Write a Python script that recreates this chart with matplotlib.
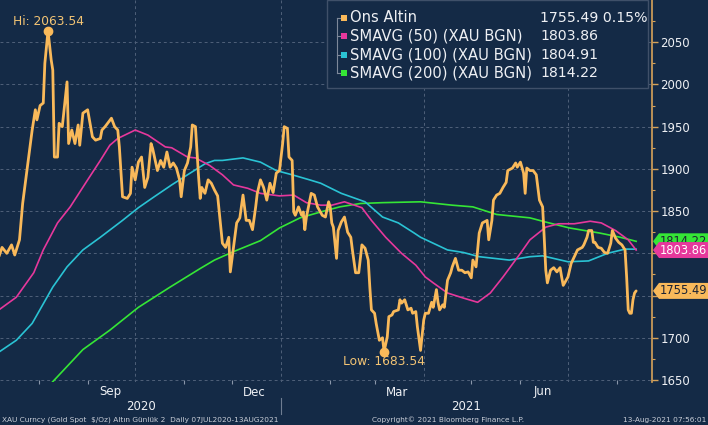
import numpy as np
import pandas as pd
import matplotlib
matplotlib.use("Agg")
import matplotlib.pyplot as plt
import matplotlib.dates as mdates
import matplotlib.transforms as mtransforms
from matplotlib.patches import Polygon, Rectangle
from matplotlib.lines import Line2D

# ---- data ----
start = pd.Timestamp("2020-07-07")

gold_days = [0, 2, 5, 8, 10, 13, 15, 18, 21, 23, 24, 26, 28, 29, 31, 33, 34, 35, 37, 38,
             40, 43, 44, 46, 48, 50, 51, 53, 56, 59, 61, 64, 65, 67, 69, 71, 73, 75, 76, 78,
             81, 83, 84, 86, 88, 90, 92, 94, 96, 97, 100, 102, 104, 106, 108, 110, 112, 114, 115, 117,
             119, 121, 122, 124, 126, 127, 128, 130, 132, 134, 136, 138, 141, 143, 145, 146, 148, 150, 152, 154,
             156, 158, 160, 162, 163, 165, 167, 169, 171, 173, 175, 177, 179, 180, 182, 183, 185, 186, 187, 189,
             191, 192, 193, 194, 197, 199, 201, 204, 206, 208, 209, 210, 211, 213, 214, 216, 218, 220, 222, 223,
             225, 227, 229, 231, 233, 234, 235, 237, 238, 240, 242, 243, 245, 246, 248, 249, 252, 253, 254, 256,
             258, 260, 261, 263, 264, 266, 268, 269, 271, 273, 274, 276, 277, 278, 280, 281, 283, 285, 286, 288,
             290, 292, 294, 296, 298, 299, 301, 302, 303, 305, 308, 309, 311, 312, 314, 316, 318, 320, 321, 324,
             326, 327, 329, 331, 332, 333, 335, 337, 339, 341, 343, 344, 345, 346, 348, 350, 352, 354, 355, 356,
             359, 361, 363, 365, 368, 369, 371, 372, 374, 375, 376, 378, 380, 382, 384, 386, 387, 389, 391, 393,
             395, 396, 397, 398, 399, 400, 401, 402]
gold_vals = [1796, 1807, 1800, 1810, 1798, 1816, 1859, 1902, 1946, 1970, 1958, 1975, 1978, 2025, 2063.54, 2029, 2017, 1914, 1914, 1954,
             1950, 2003, 1930, 1946, 1930, 1952, 1928, 1966, 1970, 1938, 1934, 1936, 1946, 1950, 1955, 1960, 1950, 1946, 1926, 1867,
             1865, 1871, 1902, 1887, 1908, 1914, 1878, 1890, 1930, 1924, 1898, 1910, 1902, 1920, 1902, 1907, 1901, 1887, 1867, 1898,
             1907, 1926, 1952, 1950, 1890, 1865, 1878, 1871, 1887, 1883, 1875, 1868, 1812, 1807, 1819, 1778, 1807, 1836, 1842, 1869,
             1839, 1839, 1828, 1855, 1871, 1887, 1878, 1863, 1883, 1872, 1895, 1898, 1930, 1950, 1948, 1914, 1910, 1849, 1845, 1855,
             1845, 1849, 1828, 1843, 1871, 1869, 1855, 1845, 1843, 1861, 1855, 1836, 1831, 1794, 1827, 1837, 1843, 1825, 1819, 1804,
             1777, 1777, 1810, 1806, 1792, 1760, 1733, 1729, 1717, 1697, 1700, 1683.54, 1701, 1725, 1727, 1731, 1733, 1745, 1741, 1745,
             1733, 1735, 1729, 1731, 1713, 1685, 1721, 1729, 1729, 1742, 1736, 1757, 1742, 1733, 1739, 1736, 1768, 1777, 1784, 1794,
             1780, 1780, 1777, 1778, 1771, 1792, 1784, 1804, 1824, 1836, 1839, 1816, 1839, 1863, 1869, 1871, 1878, 1884, 1898, 1901,
             1907, 1902, 1908, 1895, 1871, 1901, 1898, 1898, 1893, 1863, 1855, 1819, 1780, 1765, 1780, 1783, 1778, 1783, 1772, 1762,
             1772, 1788, 1796, 1804, 1807, 1810, 1819, 1827, 1827, 1813, 1813, 1807, 1806, 1801, 1800, 1812, 1827, 1818, 1813, 1810,
             1804, 1772, 1733, 1729, 1729, 1745, 1753, 1755.49]

sma50_days = [0, 11, 22, 28, 37, 45, 56, 64, 70, 75, 86, 94, 105, 109, 119, 124, 133, 141, 148, 157,
              165, 177, 186, 194, 203, 210, 218, 229, 235, 244, 254, 263, 269, 274, 283, 293, 302, 310, 318, 329,
              335, 345, 353, 363, 373, 380, 389, 397, 402]
sma50_vals = [1733, 1748, 1777, 1804, 1836, 1855, 1887, 1910, 1928, 1936, 1946, 1940, 1926, 1925, 1914, 1913, 1904, 1893, 1881, 1877,
              1871, 1868, 1869, 1860, 1857, 1857, 1861, 1854, 1839, 1819, 1800, 1786, 1772, 1765, 1753, 1747, 1742, 1753, 1772, 1800,
              1816, 1831, 1835, 1835, 1838, 1836, 1827, 1816, 1803.86]

sma100_days = [0, 11, 21, 34, 43, 53, 64, 78, 88, 98, 109, 119, 130, 136, 141, 154, 165, 175, 185, 196,
               203, 216, 231, 242, 252, 262, 266, 283, 293, 303, 322, 335, 343, 359, 372, 384, 395, 402]
sma100_vals = [1683, 1697, 1717, 1760, 1784, 1804, 1819, 1839, 1854, 1867, 1881, 1893, 1906, 1910, 1910, 1913, 1908, 1898, 1893, 1887,
               1883, 1871, 1861, 1843, 1836, 1824, 1819, 1804, 1801, 1796, 1792, 1796, 1797, 1790, 1791, 1800, 1805, 1804.91]

sma200_days = [31, 53, 70, 88, 108, 127, 136, 148, 165, 177, 190, 203, 215, 228, 242, 266, 286, 299, 314, 335,
               345, 360, 379, 392, 402]
sma200_vals = [1642, 1686, 1709, 1736, 1760, 1782, 1792, 1802, 1815, 1830, 1842, 1849, 1855, 1859, 1860, 1861, 1857, 1855, 1846, 1842,
               1837, 1830, 1824, 1819, 1814.22]

legend_names = ["Ons Altin", "SMAVG (50) (XAU BGN)", "SMAVG (100) (XAU BGN)", "SMAVG (200) (XAU BGN)"]
legend_values = ["1755.49 0.15%", "1803.86", "1804.91", "1814.22"]

y_ticks = [1650, 1700, 1750, 1800, 1850, 1900, 1950, 2000, 2050]
# 1750 and 1800 sit under the value tags in the reference
y_tick_labels = ["1650", "1700", "", "", "1850", "1900", "1950", "2000", "2050"]
grid_dates = ["2020-10-01", "2021-01-01", "2021-04-01", "2021-07-01"]
month_labels = ["Sep", "Dec", "Mar", "Jun"]
month_label_dates = ["2020-09-15", "2020-12-15", "2021-03-15", "2021-06-15"]
year_labels = ["2020", "2021"]

footer_left = "XAU Curncy (Gold Spot  $/Oz) Altın Günlük 2  Daily 07JUL2020-13AUG2021"
footer_mid = "Copyright© 2021 Bloomberg Finance L.P."
footer_right = "13-Aug-2021 07:56:01"

# ---- style ----
BG = "#142a46"
GRID = "#4f6079"
GOLD = "#f9b95a"
MAGENTA = "#e6389c"
CYAN = "#2ac3d4"
GREEN = "#35e636"
TAN = "#d7a35a"
WHITE = "#eef0f4"

W, H = 708, 425


def fx(px):
    return px / W


def fy(py):
    return 1 - py / H


def to_dates(days):
    return start + pd.to_timedelta(np.array(days), unit="D")


fig = plt.figure(figsize=(W / 100, H / 100), dpi=100, facecolor=BG)
ax = fig.add_axes([0, fy(382), fx(652), 382 / H])
ax.set_facecolor(BG)

ax.plot(to_dates(sma200_days), sma200_vals, color=GREEN, lw=1.2, zorder=2)
ax.plot(to_dates(sma100_days), sma100_vals, color=CYAN, lw=1.2, zorder=2)
ax.plot(to_dates(sma50_days), sma50_vals, color=MAGENTA, lw=1.2, zorder=2)
ax.plot(to_dates(gold_days), gold_vals, color=GOLD, lw=2.0, zorder=3,
        solid_joinstyle="round", solid_capstyle="round")

x_start = start + pd.Timedelta(hours=17)
x_end = start + pd.Timedelta(days=412)
ax.set_xlim(x_start, x_end)
ax.set_ylim(1647.6, 2100)

# axes / grid
for s in ["left", "top", "bottom"]:
    ax.spines[s].set_visible(False)
ax.spines["right"].set_color(TAN)
ax.spines["right"].set_linewidth(1.2)

ax.yaxis.tick_right()
ax.set_yticks(y_ticks)
ax.set_yticklabels(y_tick_labels)
ax.set_yticks(np.arange(1675, 2100, 50), minor=True)
ax.tick_params(axis="y", which="major", colors=TAN, labelcolor=WHITE, labelsize=8.5,
               length=4, width=1, pad=2)
ax.tick_params(axis="y", which="minor", colors=TAN, length=2.5, width=0.8)

ax.set_xticks(pd.to_datetime(grid_dates))
ax.set_xticklabels([])
ax.xaxis.set_minor_locator(mdates.MonthLocator())
ax.tick_params(axis="x", which="major", length=0)
ax.tick_params(axis="x", which="minor", length=3, width=0.8, colors="#8a97aa", direction="inout")
ax.grid(True, which="major", color=GRID, linestyle=(0, (3, 3)), linewidth=0.7)

# month and year labels
xtrans = mtransforms.blended_transform_factory(ax.transData, fig.transFigure)
for d, lab in zip(month_label_dates, month_labels):
    fig.text(mdates.date2num(pd.Timestamp(d)), fy(392), lab, transform=xtrans,
             ha="center", va="center", color=WHITE, fontsize=8.5)
year_break = mdates.date2num(pd.Timestamp("2021-01-01"))
year_pos = [(mdates.date2num(x_start) + year_break) / 2,
            (year_break + mdates.date2num(x_end)) / 2]
for xp, lab in zip(year_pos, year_labels):
    fig.text(xp, fy(407), lab, transform=xtrans, ha="center", va="center",
             color=WHITE, fontsize=8.5)
fig.add_artist(Line2D([year_break, year_break], [fy(398), fy(414)], transform=xtrans,
                      color="#6f7d91", lw=0.8))

# hi / low markers
gv = np.array(gold_vals)
gd = to_dates(gold_days)
i_hi, i_lo = int(gv.argmax()), int(gv.argmin())
ax.plot([gd[i_hi], gd[i_lo]], [gv[i_hi], gv[i_lo]], "o", color=GOLD, ms=6, zorder=4)
ax.annotate(f"Hi: {gv[i_hi]:.2f}", (gd[i_hi], gv[i_hi]), xytext=(0, 9), textcoords="offset pixels",
            ha="center", va="center", color="#f3c474", fontsize=8.8)
ax.annotate(f"Low: {gv[i_lo]:.2f}", (gd[i_lo], gv[i_lo]), xytext=(0, -10), textcoords="offset pixels",
            ha="center", va="center", color="#f3c474", fontsize=8.8)

# legend box
fig.add_artist(Rectangle((fx(327), fy(88)), fx(648) - fx(327), fy(0) - fy(88),
                         transform=fig.transFigure, facecolor=BG, edgecolor="#3f5069",
                         lw=1, zorder=2))
row_y = [18, 36, 55, 73]
colors = [GOLD, MAGENTA, CYAN, GREEN]
fig.add_artist(Line2D([fx(337), fx(337)], [fy(row_y[0]), fy(row_y[-1])], transform=fig.transFigure,
                      color="#7d889a", lw=0.8, zorder=2.5))
for yy, c, name, val in zip(row_y, colors, legend_names, legend_values):
    fig.add_artist(Line2D([fx(337), fx(341)], [fy(yy), fy(yy)], transform=fig.transFigure,
                          color="#7d889a", lw=0.8, zorder=2.5))
    fig.add_artist(Rectangle((fx(341), fy(yy + 3)), fx(6), 6 / H, transform=fig.transFigure,
                             facecolor=c, edgecolor="none", zorder=3))
    fig.text(fx(350), fy(yy), name, color=WHITE, fontsize=10.6, va="center", ha="left", zorder=3)
    fig.text(fx(540), fy(yy), val, color=WHITE, fontsize=10.2, va="center", ha="left", zorder=3)

# value tags on the right axis
ytrans = mtransforms.blended_transform_factory(fig.transFigure, ax.transData)
half = 8 / 0.845
tags = [(gold_vals[-1], GOLD, "#1b2233", 5),
        (sma200_vals[-1], GREEN, "#1b2233", 6),
        (sma50_vals[-1], MAGENTA, "white", 7)]
for val, fc, tc, z in tags:
    pts = [(fx(653), val), (fx(659), val + half), (fx(712), val + half),
           (fx(712), val - half), (fx(659), val - half)]
    fig.add_artist(Polygon(pts, closed=True, transform=ytrans, facecolor=fc,
                           edgecolor="none", zorder=z))
    fig.text(fx(660), val, f"{val:.2f}", transform=ytrans, color=tc, fontsize=8.3,
             va="center", ha="left", zorder=z + 0.5)

# footer
narrow = ["Liberation Sans Narrow", "DejaVu Sans"]
fig.text(fx(2), fy(420), footer_left, color="#c9ced8", fontsize=5.3, family=narrow,
         ha="left", va="center")
fig.text(fx(448), fy(420), footer_mid, color="#c9ced8", fontsize=5.3, family=narrow,
         ha="center", va="center")
fig.text(fx(706), fy(420), footer_right, color="#c9ced8", fontsize=5.3, family=narrow,
         ha="right", va="center")

fig.savefig("out.png", dpi=100, facecolor=BG)
